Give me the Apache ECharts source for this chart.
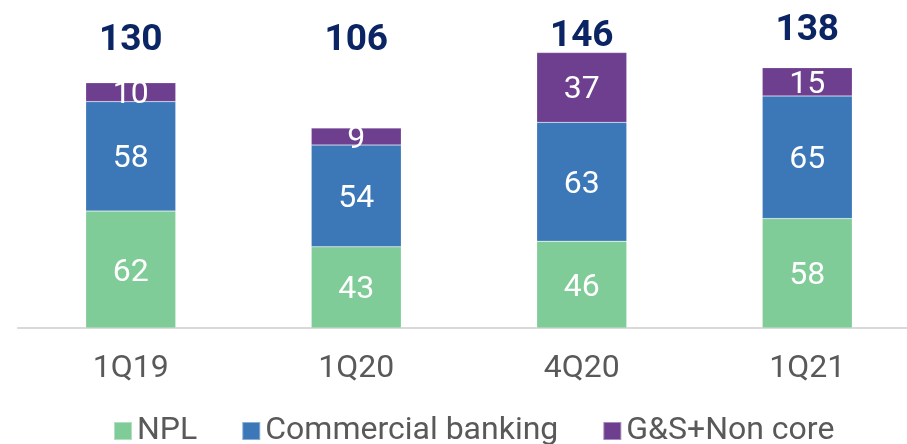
<!DOCTYPE html>
<html>
<head>
<meta charset="utf-8">
<script src="https://cdn.jsdelivr.net/npm/echarts@6/dist/echarts.min.js"></script>
<style>
  html, body { margin: 0; padding: 0; background: #fff; }
  #main { width: 907px; height: 444px; }
</style>
</head>
<body>
<div id="main"></div>
<script>
  const categories = ['1Q19', '1Q20', '4Q20', '1Q21'];
  const nplData = [62, 43, 46, 58];
  const commercialData = [58, 54, 63, 65];
  const nonCoreData = [10, 9, 37, 15];

  // totals on top of each stack
  const totals = categories.map((c, i) => nplData[i] + commercialData[i] + nonCoreData[i]);
  // vertical nudges of the total labels (px), they sit at uneven heights in the source
  const totalOffsets = [-23, -69, 3, -18];

  const myChart = echarts.init(document.getElementById('main'));

  const segLabel = {
    show: true,
    position: 'inside',
    offset: [0, 3],
    color: '#fff',
    fontFamily: 'Roboto',
    fontSize: 32
  };

  myChart.setOption({
    animation: false,
    textStyle: { fontFamily: 'Roboto' },
    // the last band runs past the right edge, so width is set by hand
    grid: { left: 18, width: 902, top: 45, bottom: 116, outerBoundsMode: 'none' },
    xAxis: {
      type: 'category',
      data: categories,
      axisLine: { lineStyle: { color: '#d9d9d9', width: 2 } },
      axisTick: { show: false },
      axisLabel: { color: '#595959', fontSize: 32, margin: 25, fontFamily: 'Roboto' }
    },
    yAxis: {
      type: 'value',
      min: 0,
      max: 150,
      show: false
    },
    legend: {
      data: ['NPL', 'Commercial banking', 'G&S+Non core'],
      left: 113,
      top: 415,
      padding: 0,
      itemWidth: 18,
      itemHeight: 18,
      itemGap: 44,
      icon: 'rect',
      textStyle: { color: '#595959', fontSize: 32, fontFamily: 'Roboto' }
    },
    series: [
      {
        name: 'NPL',
        type: 'bar',
        stack: 'total',
        barWidth: 90,
        data: nplData,
        itemStyle: { color: '#80cc98', borderColor: 'rgba(255,255,255,0.4)', borderWidth: 0.5 },
        label: segLabel
      },
      {
        name: 'Commercial banking',
        type: 'bar',
        stack: 'total',
        data: commercialData,
        itemStyle: { color: '#3c78b8', borderColor: 'rgba(255,255,255,0.4)', borderWidth: 0.5 },
        label: segLabel
      },
      {
        name: 'G&S+Non core',
        type: 'bar',
        stack: 'total',
        data: nonCoreData,
        itemStyle: { color: '#6e3f8f', borderColor: 'rgba(255,255,255,0.4)', borderWidth: 0.5 },
        label: segLabel
      },
      {
        name: 'Total',
        type: 'bar',
        barGap: '-100%',
        barWidth: 90,
        z: 1,
        data: totals.map((v, i) => ({
          value: v,
          label: { offset: [0, totalOffsets[i]] }
        })),
        itemStyle: { color: 'transparent' },
        label: {
          show: true,
          position: 'top',
          distance: 0,
          color: '#0b2463',
          fontWeight: 'bold',
          fontSize: 37,
          fontFamily: 'Roboto'
        }
      }
    ]
  });
</script>
</body>
</html>
